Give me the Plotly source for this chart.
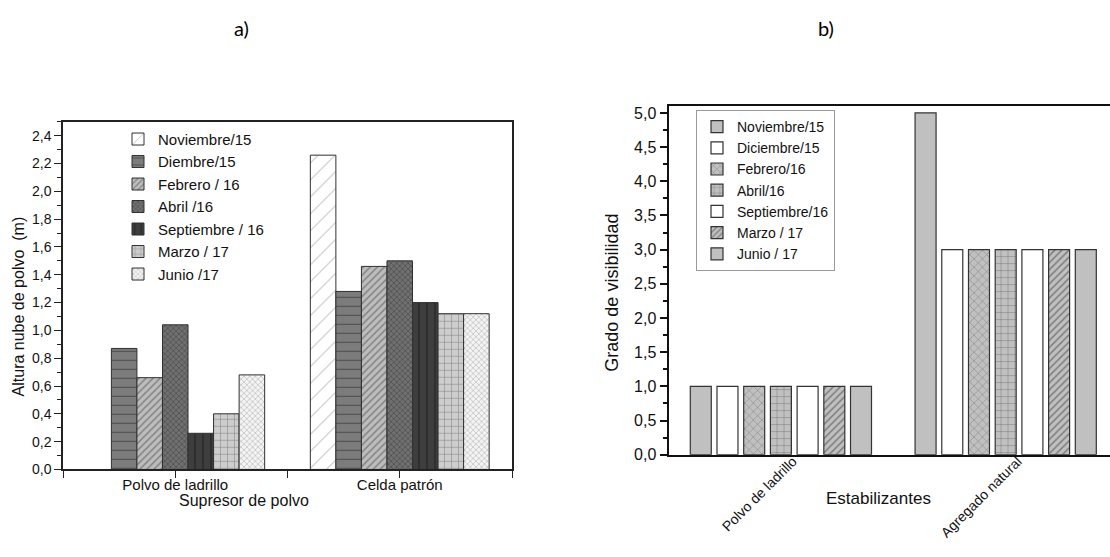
import plotly.graph_objects as go

# ---------------- data ----------------
cats_a = ["Polvo de ladrillo", "Celda patrón"]
series_a = ["Noviembre/15", "Diembre/15", "Febrero / 16", "Abril /16",
            "Septiembre / 16", "Marzo / 17", "Junio /17"]
nov_a = [None, 2.26]
dic_a = [0.87, 1.28]
feb_a = [0.66, 1.46]
abr_a = [1.04, 1.50]
sep_a = [0.26, 1.20]
mar_a = [0.40, 1.12]
jun_a = [0.68, 1.12]
values_a = [nov_a, dic_a, feb_a, abr_a, sep_a, mar_a, jun_a]

cats_b = ["Polvo de ladrillo", "Agregado natural"]
series_b = ["Noviembre/15", "Diciembre/15", "Febrero/16", "Abril/16",
            "Septiembre/16", "Marzo / 17", "Junio / 17"]
nov_b = [1.0, 5.0]
dic_b = [1.0, 3.0]
feb_b = [1.0, 3.0]
abr_b = [1.0, 3.0]
sep_b = [1.0, 3.0]
mar_b = [1.0, 3.0]
jun_b = [1.0, 3.0]
values_b = [nov_b, dic_b, feb_b, abr_b, sep_b, mar_b, jun_b]

yticks_a = [round(0.2 * k, 1) for k in range(13)]
yticks_b = [round(0.5 * k, 1) for k in range(11)]

# ---------------- styles ----------------
W, H = 1110, 557
FONT = "Liberation Sans, Arial, sans-serif"


def py(p):
    """Pixel row (px from the top) -> paper y."""
    return 1 - p / H


styles_a = [
    dict(bg="#ffffff", fg="#555555", shape="/", size=12, solidity=0.08),
    dict(bg="#7c7c7c", fg="#1e1e1e", shape="-", size=9, solidity=0.12),
    dict(bg="#bdbdbd", fg="#4a4a4a", shape="/", size=5, solidity=0.3),
    dict(bg="#707070", fg="#2e2e2e", shape="x", size=4, solidity=0.35),
    dict(bg="#3e3e3e", fg="#111111", shape="|", size=8, solidity=0.18),
    dict(bg="#cdcdcd", fg="#333333", shape="+", size=7, solidity=0.14),
    dict(bg="#f4f4f4", fg="#7a7a7a", shape="x", size=4, solidity=0.3),
]
styles_b = [
    dict(bg="#c0c0c0", fg="#c0c0c0", shape="", size=8, solidity=0.2),
    dict(bg="#ffffff", fg="#ffffff", shape="", size=8, solidity=0.2),
    dict(bg="#c0c0c0", fg="#2e2e2e", shape="x", size=6, solidity=0.15),
    dict(bg="#c0c0c0", fg="#1a1a1a", shape="+", size=7, solidity=0.12),
    dict(bg="#ffffff", fg="#ffffff", shape="", size=8, solidity=0.2),
    dict(bg="#c0c0c0", fg="#3a3a3a", shape="/", size=5, solidity=0.3),
    dict(bg="#c0c0c0", fg="#c0c0c0", shape="", size=8, solidity=0.2),
]

# bar geometry (data units: one category = 1.0)
WIDTH_A = 0.1138            # bars touch inside each group
PITCH_B, WIDTH_B = 0.1188, 0.0934

fig = go.Figure()

xa = list(range(len(cats_a)))
for i, (name, vals, st) in enumerate(zip(series_a, values_a, styles_a)):
    fig.add_trace(go.Bar(
        x=xa, y=vals, name=name, xaxis="x", yaxis="y", legend="legend",
        width=WIDTH_A, offset=(i - 3) * WIDTH_A - WIDTH_A / 2,
        marker=dict(color=st["bg"], line=dict(color="#303030", width=1),
                    pattern=dict(shape=st["shape"], fgcolor=st["fg"], bgcolor=st["bg"],
                                 size=st["size"], solidity=st["solidity"])),
    ))

xb = list(range(len(cats_b)))
for i, (name, vals, st) in enumerate(zip(series_b, values_b, styles_b)):
    fig.add_trace(go.Bar(
        x=xb, y=vals, name=name, xaxis="x2", yaxis="y2", legend="legend2",
        width=WIDTH_B, offset=(i - 3) * PITCH_B - WIDTH_B / 2,
        marker=dict(color=st["bg"], line=dict(color="#333333", width=1.2),
                    pattern=dict(shape=st["shape"], fgcolor=st["fg"], bgcolor=st["bg"],
                                 size=st["size"], solidity=st["solidity"])),
    ))

tickfont_a = dict(family=FONT, size=14, color="#111")
tickfont_b = dict(family=FONT, size=16, color="#111")

fig.update_layout(
    width=W, height=H, autosize=False,
    margin=dict(l=0, r=0, t=0, b=0),
    paper_bgcolor="white", plot_bgcolor="white",
    separators=",.",
    barmode="group",
    showlegend=True,
    # ---- panel a ----
    xaxis=dict(
        domain=[63 / W, 512 / W], anchor="y", range=[-0.5, 1.5],
        tickmode="array", tickvals=[-0.5, 0, 0.5, 1, 1.5],
        ticktext=["", cats_a[0], "", cats_a[1], ""],
        ticks="outside", ticklen=7, tickcolor="#222", ticklabelstandoff=-6,
        showline=True, linecolor="#222", linewidth=1.5, mirror=True,
        showgrid=False, zeroline=False, tickfont=dict(family=FONT, size=15, color="#111"),
    ),
    yaxis=dict(
        domain=[py(477), py(123)], anchor="x", range=[0, 2.5],
        tickmode="array", tickvals=yticks_a, tickformat=".1f",
        ticks="outside", ticklen=7, tickcolor="#222",
        minor=dict(dtick=0.1, ticks="outside", ticklen=4, tickcolor="#222"),
        showline=True, linecolor="#222", linewidth=1.5, mirror=True,
        showgrid=False, zeroline=False, tickfont=tickfont_a,
    ),
    yaxis3=dict(
        overlaying="y", side="right", anchor="x", range=[0, 2.5],
        tickmode="array", tickvals=yticks_a[1:],
        ticks="inside", ticklen=6, tickcolor="#222",
        showticklabels=False, showline=False, showgrid=False, zeroline=False,
    ),
    # ---- panel b ----
    xaxis2=dict(
        domain=[668.5 / W, 1.0], anchor="y2", range=[-0.5, 1.464],
        tickmode="array", tickvals=xb, ticktext=cats_b, tickangle=-45,
        ticklabelshift=12, ticklabelstandoff=-9,
        ticks="", showline=True, linecolor="#111", linewidth=2, mirror=True,
        showgrid=False, zeroline=False, tickfont=dict(family=FONT, size=14, color="#111"),
    ),
    yaxis2=dict(
        domain=[py(462), py(107)], anchor="x2", range=[0, 5.1],
        tickmode="array", tickvals=yticks_b, tickformat=".1f",
        ticks="outside", ticklen=7, tickcolor="#111", tickwidth=1.5,
        minor=dict(dtick=0.25, ticks="outside", ticklen=4, tickcolor="#111", tickwidth=1.5),
        showline=True, linecolor="#111", linewidth=2,
        showgrid=False, zeroline=False, tickfont=tickfont_b,
    ),
    legend=dict(
        x=118 / W, y=py(124), xanchor="left", yanchor="top",
        bgcolor="rgba(0,0,0,0)", borderwidth=0,
        font=dict(family=FONT, size=15, color="#111"),
        tracegroupgap=0, itemwidth=30,
    ),
    legend2=dict(
        x=696 / W, y=py(111), xanchor="left", yanchor="top",
        bgcolor="white", bordercolor="#9a9a9a", borderwidth=1,
        font=dict(family=FONT, size=14, color="#111"),
        tracegroupgap=0, itemwidth=30,
    ),
)

annotations = [
    dict(text="Altura nube de polvo  (m)", x=18 / W, y=py(311), textangle=-90,
         font=dict(family=FONT, size=16, color="#111")),
    dict(text="Supresor de polvo", x=244 / W, y=py(509),
         font=dict(family=FONT, size=16, color="#111")),
    dict(text="Grado de visibilidad", x=612 / W, y=py(297), textangle=-90,
         font=dict(family=FONT, size=18, color="#111")),
    dict(text="Estabilizantes", x=878 / W, y=py(507),
         font=dict(family=FONT, size=17, color="#111")),
    dict(text="a)", x=241 / W, y=py(27),
         font=dict(family="Lato, Open Sans, sans-serif", size=20, color="#000")),
    dict(text="b)", x=826 / W, y=py(27),
         font=dict(family="Lato, Open Sans, sans-serif", size=20, color="#000")),
]
for a in annotations:
    fig.add_annotation(xref="paper", yref="paper", showarrow=False,
                       xanchor="center", yanchor="middle", **a)

fig.write_html("out.html")
